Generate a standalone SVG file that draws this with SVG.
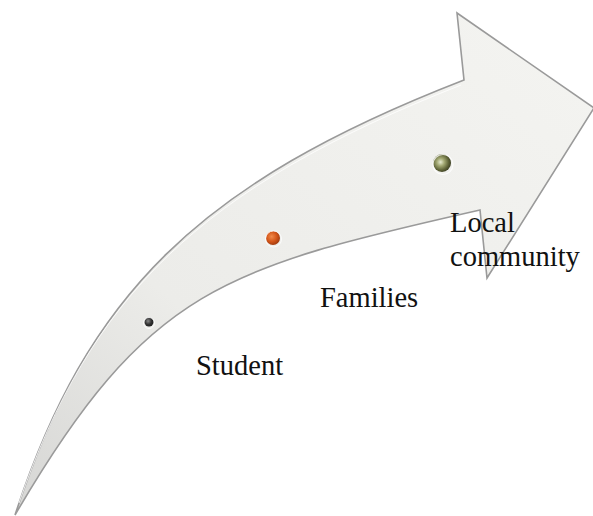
<svg xmlns="http://www.w3.org/2000/svg" width="593" height="516" viewBox="0 0 593 516">
  <defs>
    <linearGradient id="bodyFill" x1="0" y1="1" x2="1" y2="0">
      <stop offset="0" stop-color="#d6d6d4"/>
      <stop offset="0.35" stop-color="#ecece9"/>
      <stop offset="1" stop-color="#f4f4f1"/>
    </linearGradient>
    <radialGradient id="dotGray" cx="0.4" cy="0.4" r="0.6">
      <stop offset="0" stop-color="#8a8a8a"/>
      <stop offset="0.6" stop-color="#333"/>
      <stop offset="1" stop-color="#222"/>
    </radialGradient>
    <radialGradient id="dotOrange" cx="0.4" cy="0.4" r="0.6">
      <stop offset="0" stop-color="#f08a4a"/>
      <stop offset="0.6" stop-color="#d4561a"/>
      <stop offset="1" stop-color="#a63e10"/>
    </radialGradient>
    <radialGradient id="dotGreen" cx="0.42" cy="0.45" r="0.6">
      <stop offset="0" stop-color="#e6ead0"/>
      <stop offset="0.35" stop-color="#a2a872"/>
      <stop offset="0.75" stop-color="#5d6236"/>
      <stop offset="1" stop-color="#3a3d22"/>
    </radialGradient>
  </defs>
  <style>
    .label { font-family: "Liberation Serif", "Times New Roman", serif; font-size: 28.5px; fill: #111; }
    .dotring { fill: none; stroke: #ffffff; stroke-opacity: 0.8; }
  </style>

  <g id="arrow">
    <path d="M15,515 C87,296 196,184 464,80 L457,13 L594,108 L487,278 L480,210 C224,268 148,287.5 15,515 Z"
          fill="url(#bodyFill)" stroke="#9a9a9a" stroke-width="1.6" stroke-linejoin="miter"/>
    <path d="M19,503 C90,298 198,188 461,85" fill="none" stroke="#ffffff" stroke-width="0.9" stroke-opacity="0.9"/>
  </g>

  <g id="student">
    <circle cx="149" cy="322" r="4.5" fill="url(#dotGray)"/>
    <circle cx="149" cy="323" r="5.5" class="dotring" stroke-width="1"/>
    <text class="label" x="196" y="375">Student</text>
  </g>

  <g id="families">
    <circle cx="273" cy="238" r="7" fill="url(#dotOrange)"/>
    <circle cx="273.5" cy="239" r="8" class="dotring" stroke-width="1"/>
    <text class="label" x="320" y="307">Families</text>
  </g>

  <g id="local-community">
    <circle cx="442" cy="163" r="9" fill="url(#dotGreen)"/>
    <circle cx="443" cy="164.5" r="10" class="dotring" stroke-width="1.2"/>
    <text class="label" x="450" y="232">Local</text>
    <text class="label" x="450" y="266">community</text>
  </g>
</svg>
